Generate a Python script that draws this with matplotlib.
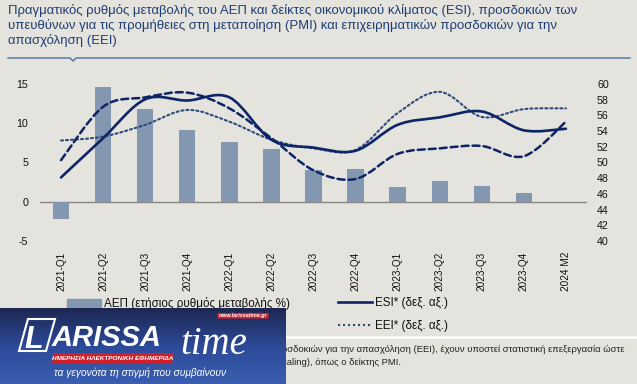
"""
GDP growth bars with ESI / PMI / EEI smoothed lines on a right axis.
"""

import numpy as np
import matplotlib
matplotlib.use("Agg")
import matplotlib.pyplot as plt
from matplotlib.path import Path
from matplotlib.patches import PathPatch, Patch, Polygon, FancyBboxPatch
from matplotlib.lines import Line2D

plt.rcParams["font.family"] = ["Liberation Sans", "DejaVu Sans"]
plt.rcParams["axes.unicode_minus"] = False

# data
categories = ["2021-Q1", "2021-Q2", "2021-Q3", "2021-Q4", "2022-Q1", "2022-Q2",
              "2022-Q3", "2022-Q4", "2023-Q1", "2023-Q2", "2023-Q3", "2023-Q4", "2024 M2"]
gdp = [-2.2, 14.6, 11.8, 9.15, 7.6, 6.7, 4.1, 4.2, 1.9, 2.6, 2.0, 1.15, np.nan]
esi = [48.1, 53.1, 58.05, 57.9, 58.3, 52.9, 51.9, 51.5, 54.8, 55.75, 56.5, 54.1, 54.3]
pmi = [50.3, 57.1, 58.3, 58.9, 56.9, 53.1, 49.0, 47.9, 51.1, 51.8, 52.1, 50.8, 55.2]
eei = [52.8, 53.3, 54.8, 56.7, 55.2, 52.9, 51.8, 51.6, 56.3, 59.0, 55.8, 56.8, 56.9]
left_ticks = [-5, 0, 5, 10, 15]
right_ticks = list(range(40, 61, 2))

title_lines = [
    "Πραγματικός ρυθμός μεταβολής του ΑΕΠ και δείκτες οικονομικού κλίματος (ESI), προσδοκιών των",
    "υπευθύνων για τις προμήθειες στη μεταποίηση (PMI) και επιχειρηματικών προσδοκιών για την",
    "απασχόληση (EEI)",
]
footnote_lines = [
    "οσδοκιών για την απασχόληση (EEI), έχουν υποστεί στατιστική επεξεργασία ώστε",
    "caling), όπως ο δείκτης PMI.",
]

# style
bg = "#e4e3de"
navy = "#0d2566"
bar_color = "#8497b0"
title_color = "#1f3e73"

W, H = 637, 384
def fx(px):
    return px / W
def fy(py):
    return 1 - py / H


def smooth_path(xs, ys):
    """Excel-like smoothed line as a cubic bezier path."""
    pts = np.column_stack([xs, ys]).astype(float)
    n = len(pts)
    verts = [pts[0]]
    codes = [Path.MOVETO]
    for i in range(n - 1):
        p0 = pts[max(i - 1, 0)]
        p1 = pts[i]
        p2 = pts[i + 1]
        p3 = pts[min(i + 2, n - 1)]
        c1 = p1 + (p2 - p0) / 6
        c2 = p2 - (p3 - p1) / 6
        verts += [c1, c2, p2]
        codes += [Path.CURVE4] * 3
    return Path(verts, codes)


fig = plt.figure(figsize=(W / 100, H / 100), dpi=100, facecolor=bg)

# title
for i, line in enumerate(title_lines):
    fig.text(fx(8), fy(14 + 15 * i), line, ha="left", va="baseline",
             fontsize=9.45, color=title_color)

# separator line with small notch
fig.add_artist(Line2D([fx(8), fx(70), fx(73), fx(76), fx(630)],
                      [fy(58), fy(58), fy(61), fy(58), fy(58)],
                      color="#4a6fa0", lw=1.0))

ax = fig.add_axes([fx(40), fy(241), (587 - 40) / W, (241 - 84) / H])
ax.set_facecolor("none")
x = np.arange(len(categories))
ax.bar(x, gdp, width=0.39, color=bar_color, zorder=2)
ax.axhline(0, color="#878787", lw=1.0, zorder=1)
ax.set_xlim(-0.5, len(categories) - 0.5)
ax.set_ylim(-5, 15)
ax.set_yticks(left_ticks)
ax.set_xticks(x)
ax.set_xticklabels(categories, rotation=90, fontsize=7.2)
ax.tick_params(axis="y", length=0, pad=8.5, labelsize=7.7, labelcolor="#111111")
ax.tick_params(axis="x", length=0, pad=8, labelcolor="#111111")
for s in ax.spines.values():
    s.set_visible(False)

ax2 = ax.twinx()
ax2.set_ylim(40, 60)
ax2.set_yticks(right_ticks)
ax2.tick_params(axis="y", length=0, pad=7.2, labelsize=7.7, labelcolor="#111111")
for s in ax2.spines.values():
    s.set_visible(False)

line_styles = [
    (eei, dict(color="#2e4a7d", lw=1.5, linestyle=(0, (1, 1.4)))),
    (pmi, dict(color=navy, lw=1.8, linestyle=(0, (2.8, 1.6)))),
    (esi, dict(color=navy, lw=1.9, linestyle="-")),
]
for vals, kw in line_styles:
    ax2.add_patch(PathPatch(smooth_path(x, vals), fill=False,
                            transform=ax2.transData, capstyle="round", **kw))

# legends (the PMI entry sits under the logo in the original)
leg_kw = dict(loc="upper left", frameon=False, fontsize=8.4, borderpad=0,
              borderaxespad=0, handlelength=2.9, handletextpad=0.25,
              labelspacing=0.95, labelcolor="#111111")
fig.legend([Patch(color=bar_color)], ["ΑΕΠ (ετήσιος ρυθμός μεταβολής %)"],
           bbox_to_anchor=(fx(67), fy(297)), **leg_kw)
fig.legend([Line2D([], [], color=navy, lw=1.9),
            Line2D([], [], color="#2e4a7d", lw=1.5, linestyle=(0, (1, 1.4)))],
           ["ESI* (δεξ. αξ.)", "EEI* (δεξ. αξ.)"],
           bbox_to_anchor=(fx(338), fy(297)), **leg_kw)

# footnote
fig.add_artist(Line2D([0, 1], [fy(337), fy(337)], color="white", lw=1.8))
for i, line in enumerate(footnote_lines):
    fig.text(fx(282), fy(352 + 13 * i), line, ha="left", va="baseline",
             fontsize=6.8, color="#222222")

# watermark logo
lax = fig.add_axes([0, 0, 286 / W, (384 - 308) / H], zorder=10)
grad = np.linspace(0, 1, 100).reshape(-1, 1)
cmap = matplotlib.colors.LinearSegmentedColormap.from_list("lg", ["#1d2752", "#2c4a98", "#3a5fb0"])
lax.imshow(grad, aspect="auto", cmap=cmap, extent=(0, 286, 76, 0))
lax.set_xlim(0, 286)
lax.set_ylim(76, 0)
lax.axis("off")
lax.add_patch(Polygon([(28, 11), (55, 11), (46, 43), (19, 43)], closed=True,
                      fill=False, edgecolor="white", lw=1.5))
lax.text(34, 39.5, "L", color="white", fontsize=22, fontweight="bold",
         fontstyle="italic", ha="center", va="baseline")
lax.text(52, 37.5, "ARISSA", color="white", fontsize=21, fontweight="bold",
         fontstyle="italic", ha="left", va="baseline")
lax.text(180, 46, "time", color="white", fontsize=28, fontstyle="italic",
         family="Liberation Serif", ha="left", va="baseline")
lax.add_patch(FancyBboxPatch((218, 5.5), 50, 4.5, boxstyle="round,pad=0.6",
                             facecolor="#d0202a", edgecolor="none"))
lax.text(243, 7.8, "www.larissatime.gr", color="white", fontsize=3.9,
         fontweight="bold", fontstyle="italic", ha="center", va="center")
lax.add_patch(Polygon([(54, 45), (174, 45), (172, 55), (52, 55)], closed=True,
                      facecolor="#d0202a", edgecolor="none"))
lax.text(113, 50.3, "ΗΜΕΡΗΣΙΑ ΗΛΕΚΤΡΟΝΙΚΗ ΕΦΗΜΕΡΙΔΑ", color="white", fontsize=4.6,
         fontweight="bold", fontstyle="italic", ha="center", va="center")
lax.text(140, 65, "τα γεγονότα τη στιγμή που συμβαίνουν", color="white",
         fontsize=7.3, fontstyle="italic", ha="center", va="center")

fig.savefig("out.png", dpi=100, facecolor=bg)
